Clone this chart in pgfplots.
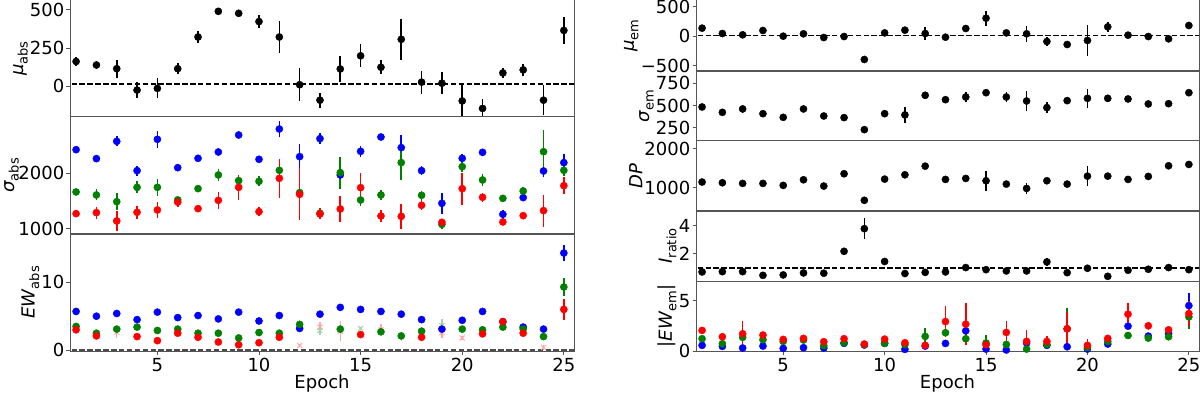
\documentclass[border=0pt]{standalone}
\usepackage{fontspec}
\setmainfont{DejaVu Sans}
\usepackage{pgfplots}
\usepackage{pgfplotstable}
\pgfplotsset{compat=1.18}
\definecolor{mblue}{RGB}{0,0,255}
\definecolor{mgreen}{RGB}{0,128,0}
\definecolor{mred}{RGB}{255,0,0}
\definecolor{spine}{RGB}{85,85,85}
\newcommand\sub[1]{\raisebox{-0.25em}{\fontsize{13}{14}\selectfont #1}}
\newcommand\fs{\fontsize{18}{21}\selectfont}

% absorption panels
\pgfplotstableread{
e y err
1 163 30
2 140 28
3 116 58
4 -24 52
5 -13 65
6 116 35
7 323 38
8 491 12
9 478 15
10 424 45
11 323 102
12 11 108
13 -90 50
14 114 86
15 200 75
16 125 45
17 308 134
18 28 75
19 21 70
20 -95 105
21 -144 60
22 88 30
23 108 41
24 -90 100
25 366 88
}\muabs

\pgfplotstableread{
e b be g ge r re
1 2427 40 1663 60 1272 60
2 2265 40 1609 100 1290 110
3 2578 90 1488 150 1139 180
4 2048 90 1747 110 1296 120
5 2614 150 1747 150 1338 150
6 2102 50 1520 60 1480 80
7 2271 40 1723 60 1362 60
8 2385 70 1970 100 1512 150
9 2692 80 1868 100 1747 220
10 2253 50 1856 90 1308 80
11 2800 150 2054 50 1910 350
12 2301 220 1651 60 1621 470
13 2626 100 1278 70 1266 100
14 1970 80 2012 290 1356 240
15 2397 100 1518 110 1741 270
16 2656 30 1609 90 1229 100
17 2464 230 2193 320 1223 230
18 2048 80 1603 80 1422 90
19 1458 190 1079 80 1115 60
20 2271 80 2120 100 1723 290
21 2379 60 1880 110 1567 80
22 1260 80 1548 60 1121 30
23 1561 60 1681 70 1235 30
24 2042 100 2391 390 1326 290
25 2193 150 2054 100 1777 150
}\sigabs

\pgfplotstableread{
e b be g ge r re gf gfe rf rfe
1 5.7 0.15 3.5 0.2 3.0 0.2 nan nan nan nan
2 5.0 0.15 2.5 0.2 2.1 0.2 nan nan nan nan
3 5.4 0.15 3.1 0.2 nan nan nan nan 2.6 0.8
4 4.5 0.15 3.4 0.2 2.0 0.2 nan nan nan nan
5 5.6 0.15 2.9 0.2 1.4 0.2 nan nan nan nan
6 4.8 0.15 3.1 0.2 2.5 0.2 nan nan nan nan
7 5.1 0.15 2.5 0.2 1.9 0.2 nan nan nan nan
8 4.6 0.15 2.5 0.2 1.2 0.2 nan nan nan nan
9 5.6 0.15 1.8 0.2 0.8 0.2 nan nan nan nan
10 4.3 0.15 2.6 0.2 1.1 0.2 nan nan nan nan
11 5.1 0.15 2.5 0.2 1.9 0.2 nan nan nan nan
12 3.2 0.15 3.8 0.4 nan nan nan nan 0.7 0.2
13 5.3 0.15 nan nan nan nan 2.9 0.6 3.4 0.8
14 6.3 0.3 3.1 0.2 nan nan nan nan 2.8 1.5
15 6.0 0.15 nan nan 2.3 0.2 3.2 0.2 nan nan
16 5.7 0.15 2.7 0.2 nan nan nan nan 3.0 0.8
17 5.3 0.15 2.1 0.2 nan nan nan nan 2.0 0.7
18 4.5 0.15 2.8 0.2 1.9 0.2 nan nan nan nan
19 3.1 0.15 nan nan nan nan 3.6 1.0 2.6 0.8
20 4.4 0.15 3.1 0.2 nan nan nan nan 1.8 0.3
21 5.7 0.15 3.0 0.2 2.4 0.2 nan nan nan nan
22 4.2 0.15 3.4 0.2 4.2 0.4 nan nan nan nan
23 3.4 0.15 3.1 0.2 2.5 0.2 nan nan nan nan
24 3.1 0.15 2.0 0.2 nan nan nan nan 0.4 0.3
25 14.3 1.2 9.3 1.3 6.0 1.6 nan nan nan nan
}\ewabs

% emission panels
\pgfplotstableread{
e mu mue sig sige dp dpe ir ire
1 136 20 485 15 1145 20 0.73 0.03
2 45 15 425 15 1127 20 0.75 0.03
3 23 15 463 40 1110 20 0.75 0.03
4 96 15 410 15 1110 20 0.49 0.03
5 0 15 369 15 1060 20 0.52 0.03
6 40 15 463 30 1203 20 0.66 0.03
7 -23 15 384 15 1043 20 0.64 0.03
8 -6 15 366 15 1356 20 2.19 0.15
9 -395 60 231 15 680 80 3.79 0.74
10 56 20 410 30 1220 30 1.47 0.05
11 102 40 396 90 1330 30 0.62 0.03
12 45 110 616 40 1550 80 0.70 0.03
13 -17 20 567 30 1212 20 0.73 0.03
14 130 60 597 55 1237 20 1.04 0.05
15 305 125 645 40 1178 250 0.89 0.20
16 56 50 597 55 1093 30 0.80 0.03
17 40 140 552 110 983 130 0.80 0.20
18 -90 70 478 60 1178 60 1.44 0.30
19 -141 40 556 40 1093 20 0.68 0.03
20 -73 265 582 110 1296 245 0.99 0.25
21 158 90 582 40 1296 80 0.42 0.03
22 17 20 575 15 1212 20 0.85 0.03
23 -6 20 519 15 1288 20 0.92 0.03
24 -45 20 522 15 1559 20 1.04 0.03
25 181 60 645 15 1593 20 0.89 0.03
}\emis

\pgfplotstableread{
e b be g ge r re
1 0.56 0.05 1.22 0.1 2.04 0.3
2 0.46 0.05 0.72 0.1 1.41 0.3
3 0.30 0.05 1.35 0.15 1.71 1.3
4 0.49 0.05 1.12 0.1 1.58 0.2
5 0.26 0.05 0.95 0.1 1.15 0.15
6 0.33 0.05 1.09 0.1 1.25 0.2
7 0.30 0.05 0.53 0.1 0.92 0.15
8 0.76 0.05 0.82 0.1 1.22 0.15
9 0.59 0.05 0.63 0.1 0.69 0.1
10 0.76 0.05 0.76 0.1 1.18 0.15
11 0.16 0.05 0.63 0.1 0.82 0.2
12 0.49 0.05 1.45 0.8 0.56 0.15
13 0.75 0.05 1.81 0.4 2.92 1.5
14 2.0 0.15 1.21 0.3 2.66 2.1
15 0.19 0.05 0.79 0.8 0.62 0.3
16 0.10 0.05 0.65 0.1 1.84 1.1
17 0.79 0.1 0.19 0.1 0.95 1.1
18 0.56 0.05 0.65 0.2 0.95 0.5
19 0.42 0.05 2.2 2.1 2.2 1.7
20 0.19 0.05 0.36 0.1 0.56 0.6
21 0.69 0.05 0.95 0.1 1.25 0.2
22 2.46 0.2 1.54 0.2 3.65 1.1
23 1.48 0.1 1.28 0.1 2.5 0.4
24 1.71 0.1 1.41 0.1 2.1 0.3
25 4.5 1.3 3.38 1.2 3.71 1.2
}\ewem

\pgfplotsset{
  pan/.style={scale only axis, anchor=south west, xmin=0.7, xmax=25.5,
    axis line style={spine, line width=1pt},
    tick style={spine, line width=1pt}, tick align=outside, major tick length=3.5pt,
    xtick=\empty, ytick pos=left, scaled ticks=false,
    /pgf/number format/assume math mode=true,
    /pgf/number format/1000 sep={},
    tick label style={font=\fs, black},
    yticklabel style={inner sep=2pt},
    label style={font=\fs},
    ylabel style={inner sep=0pt}},
  bot/.style={xtick={5,10,15,20,25}, xtick pos=bottom, xlabel={Epoch},
    xlabel style={inner sep=0pt}},
  eb/.style={only marks, mark=*, mark size=3.6pt, color=#1,
    mark options={fill=#1, draw=#1},
    error bars/.cd, y dir=both, y explicit, error mark=none,
    error bar style={line width=1.6pt, color=#1}},
  fd/.style={only marks, mark=x, mark size=3.5pt, color=#1,
    mark options={line width=1pt},
    error bars/.cd, y dir=both, y explicit, error mark=none,
    error bar style={line width=1.5pt, color=#1}},
  dsh/.style={black, line width=1.4pt, dash pattern=on 5.5pt off 2.4pt, forget plot},
}

\begin{document}
\begin{tikzpicture}[x=1pt,y=1pt]
\path[use as bounding box] (0,0) rectangle (1200,397);

% ---- left column ----
\begin{axis}[pan, at={(70pt,280pt)}, width=504pt, height=117pt,
  ymin=-200, ymax=565, ytick={0,250,500}, ylabel={\textit{μ}\sub{abs}}]
  \addplot[dsh] coordinates {(0,15) (26,15)};
  \addplot[eb=black] table[x=e, y=y, y error=err] {\muabs};
\end{axis}

\begin{axis}[pan, at={(70pt,163pt)}, width=504pt, height=117pt,
  ymin=904, ymax=3017, ytick={1000,2000}, ylabel={\textit{σ}\sub{abs}},
  ylabel shift=-2.5pt]
  \addplot[eb=mblue] table[x=e, y=b, y error=be] {\sigabs};
  \addplot[eb=mgreen] table[x=e, y=g, y error=ge] {\sigabs};
  \addplot[eb=mred] table[x=e, y=r, y error=re] {\sigabs};
\end{axis}

\begin{axis}[pan, bot, at={(70pt,46pt)}, width=504pt, height=117pt,
  ymin=-0.12, ymax=17.1, ytick={0,10}, ylabel={\textit{EW}\sub{abs}}]
  \addplot[dsh, black!70] coordinates {(0,0) (26,0)};
  \addplot[fd=mred!35] table[x=e, y=rf, y error=rfe] {\ewabs};
  \addplot[fd=mgreen!35] table[x=e, y=gf, y error=gfe] {\ewabs};
  \addplot[eb=mblue] table[x=e, y=b, y error=be] {\ewabs};
  \addplot[eb=mgreen] table[x=e, y=g, y error=ge] {\ewabs};
  \addplot[eb=mred] table[x=e, y=r, y error=re] {\ewabs};
\end{axis}

% ---- right column ----
\begin{axis}[pan, at={(696pt,326pt)}, width=503pt, height=71pt,
  ymin=-590, ymax=613, ytick={-500,0,500}, yticklabels={−500,0,500},
  ylabel={\textit{μ}\sub{em}}]
  \addplot[dsh] coordinates {(0,8) (26,8)};
  \addplot[eb=black] table[x=e, y=mu, y error=mue] {\emis};
\end{axis}

\begin{axis}[pan, at={(696pt,256pt)}, width=503pt, height=70pt,
  ymin=104, ymax=888, ytick={250,500,750}, ylabel={\textit{σ}\sub{em}}]
  \addplot[eb=black] table[x=e, y=sig, y error=sige] {\emis};
\end{axis}

\begin{axis}[pan, at={(696pt,186pt)}, width=503pt, height=70pt,
  ymin=408, ymax=2190, ytick={1000,2000}, ylabel={\textit{DP}}]
  \addplot[eb=black] table[x=e, y=dp, y error=dpe] {\emis};
\end{axis}

\begin{axis}[pan, at={(696pt,116pt)}, width=503pt, height=70pt,
  ymin=0.09, ymax=5.04, ytick={2,4}, ylabel={\textit{I}\sub{ratio}}]
  \addplot[dsh] coordinates {(0,1) (26,1)};
  \addplot[eb=black] table[x=e, y=ir, y error=ire] {\emis};
\end{axis}

\begin{axis}[pan, bot, at={(696pt,46pt)}, width=503pt, height=70pt,
  ymin=0, ymax=6.94, ytick={0,5}, ylabel={|\textit{EW}\sub{em}|}]
  \addplot[eb=mblue] table[x=e, y=b, y error=be] {\ewem};
  \addplot[eb=mgreen] table[x=e, y=g, y error=ge] {\ewem};
  \addplot[eb=mred] table[x=e, y=r, y error=re] {\ewem};
\end{axis}
\end{tikzpicture}
\end{document}
